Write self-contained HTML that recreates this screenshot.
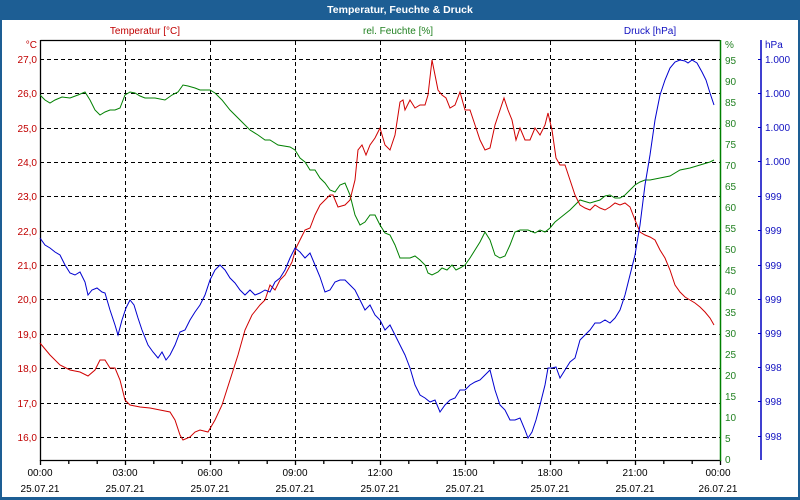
<!DOCTYPE html>
<html><head><meta charset="utf-8"><style>
html,body{margin:0;padding:0;background:#fff}
body{width:800px;height:500px;overflow:hidden}
svg{display:block;font-family:"Liberation Sans",sans-serif;font-size:10px}
</style></head><body>
<svg width="800" height="500" viewBox="0 0 800 500">
<rect x="0" y="0" width="800" height="500" fill="#1d5e94"/>
<rect x="2" y="20" width="796" height="477" fill="#fff"/>
<text x="400" y="13" fill="#fff" font-weight="bold" font-size="10.5" text-anchor="middle">Temperatur, Feuchte &amp; Druck</text>
<text x="145" y="34" fill="#c00000" text-anchor="middle">Temperatur [°C]</text>
<text x="398" y="34" fill="#208020" text-anchor="middle">rel. Feuchte [%]</text>
<text x="650" y="34" fill="#1010c0" text-anchor="middle">Druck [hPa]</text>
<!-- grid -->
<g stroke="#000" stroke-dasharray="4,3" stroke-width="1">
<path d="M40 59.5H720M40 93.5H720M40 128.5H720M40 162.5H720M40 196.5H720M40 231.5H720M40 265.5H720M40 299.5H720M40 334.5H720M40 368.5H720M40 403.5H720M40 437.5H720"/>
<path d="M125.5 41V460M210.5 41V460M295.5 41V460M380.5 41V460M465.5 41V460M550.5 41V460M635.5 41V460"/>
</g>
<g stroke="#000" stroke-width="1.3" fill="none">
<path d="M40.5 40.5H720M40.5 40V460.5H720"/>
<path d="M40.5 460v5M68.8 460v4M97.2 460v4M125.5 460v5M153.8 460v4M182.2 460v4M210.5 460v5M238.8 460v4M267.2 460v4M295.5 460v5M323.8 460v4M352.2 460v4M380.5 460v5M408.8 460v4M437.2 460v4M465.5 460v5M493.8 460v4M522.2 460v4M550.5 460v5M578.8 460v4M607.2 460v4M635.5 460v5M663.8 460v4M692.2 460v4M720.5 460v5"/>
</g>
<path d="M720.5 40V461" stroke="#008000" stroke-width="1.5"/>
<path d="M761 40V460" stroke="#0000c0" stroke-width="1.5"/>
<g stroke="#0000c0"><path d="M758 59.5h3M758 93.5h3M758 127.5h3M758 161.5h3M758 196.5h3M758 230.5h3M758 265.5h3M758 299.5h3M758 333.5h3M758 367.5h3M758 401.5h3M758 436.5h3"/></g>
<!-- left labels -->
<g fill="#c00000" text-anchor="end">
<text x="37" y="48">°C</text>
<text x="37" y="63">27,0</text><text x="37" y="97">26,0</text><text x="37" y="132">25,0</text><text x="37" y="166">24,0</text><text x="37" y="200">23,0</text><text x="37" y="235">22,0</text><text x="37" y="269">21,0</text><text x="37" y="303">20,0</text><text x="37" y="338">19,0</text><text x="37" y="372">18,0</text><text x="37" y="407">17,0</text><text x="37" y="441">16,0</text>
</g>
<g fill="#208020">
<text x="725" y="48">%</text>
<text x="725" y="64">95</text><text x="725" y="85">90</text><text x="725" y="106">85</text><text x="725" y="127">80</text><text x="725" y="148">75</text><text x="725" y="169">70</text><text x="725" y="190">65</text><text x="725" y="211">60</text><text x="725" y="232">55</text><text x="725" y="253">50</text><text x="725" y="274">45</text><text x="725" y="295">40</text><text x="725" y="316">35</text><text x="725" y="337">30</text><text x="725" y="358">25</text><text x="725" y="379">20</text><text x="725" y="400">15</text><text x="725" y="421">10</text><text x="725" y="442">5</text><text x="725" y="463">0</text>
</g>
<g fill="#1010c0">
<text x="765" y="48">hPa</text>
<text x="765" y="63">1.000</text><text x="765" y="97">1.000</text><text x="765" y="131">1.000</text><text x="765" y="165">1.000</text><text x="765" y="200">999</text><text x="765" y="234">999</text><text x="765" y="269">999</text><text x="765" y="303">999</text><text x="765" y="337">999</text><text x="765" y="371">998</text><text x="765" y="405">998</text><text x="765" y="440">998</text>
</g>
<g fill="#000" text-anchor="middle">
<text x="40" y="476">00:00</text><text x="40" y="492">25.07.21</text>
<text x="125" y="476">03:00</text><text x="125" y="492">25.07.21</text>
<text x="210" y="476">06:00</text><text x="210" y="492">25.07.21</text>
<text x="295" y="476">09:00</text><text x="295" y="492">25.07.21</text>
<text x="380" y="476">12:00</text><text x="380" y="492">25.07.21</text>
<text x="465" y="476">15:00</text><text x="465" y="492">25.07.21</text>
<text x="550" y="476">18:00</text><text x="550" y="492">25.07.21</text>
<text x="635" y="476">21:00</text><text x="635" y="492">25.07.21</text>
<text x="718" y="476">00:00</text><text x="718" y="492">26.07.21</text>
</g>
<g fill="none" stroke-width="1">
<polyline stroke="#008000" points="40,95 45,100 50,103 55,100 62,97 70,98 78,95 85,92 90,100 95,110 100,115 105,112 110,110 115,110 120,108 125,95 130,92 135,93 140,96 145,98 155,98 165,100 172,95 178,92 183,85 188,86 195,88 200,90 210,90 215,93 222,100 230,110 240,120 250,130 258,135 265,140 270,140 278,145 290,147 295,150 300,158 305,162 310,170 315,170 320,178 325,183 330,190 335,192 340,185 345,183 350,195 355,215 360,225 365,222 370,215 375,215 380,225 385,233 390,235 395,245 400,258 405,258 410,258 415,256 420,260 425,265 428,273 432,275 438,272 442,268 447,270 452,265 456,270 460,268 465,265 470,258 475,250 480,242 485,232 490,240 495,255 500,258 505,256 510,245 515,232 520,230 528,230 535,233 540,230 545,232 550,228 555,222 560,218 565,214 570,210 575,205 580,200 590,203 600,200 605,196 610,195 615,198 620,198 625,195 630,190 635,185 640,182 645,180 650,180 660,178 670,176 680,170 690,168 700,165 710,162 714,160"/>
<polyline stroke="#d00000" points="40,343 50,355 60,365 70,370 80,372 88,376 95,370 100,360 105,360 110,368 115,368 120,380 125,400 130,405 140,407 150,408 160,410 170,412 175,420 180,435 183,440 190,437 195,432 200,430 208,432 215,420 222,405 230,380 238,355 245,330 252,315 260,305 265,300 270,285 275,290 280,280 285,275 292,262 296,248 300,240 305,230 310,228 315,215 320,205 325,200 330,195 333,195 338,207 345,205 350,200 355,180 358,150 362,145 366,155 370,145 375,138 380,128 385,145 390,150 395,135 400,102 403,100 405,110 410,100 415,108 420,105 425,105 428,95 432,60 435,75 438,90 442,95 446,98 450,108 455,105 460,92 465,110 470,110 475,125 480,140 485,150 490,148 495,125 500,110 504,98 508,110 512,120 516,140 520,128 525,140 530,140 535,128 540,135 545,125 548,113 552,130 556,158 560,165 565,165 570,180 575,195 580,205 585,208 590,210 595,205 600,208 605,210 610,207 615,203 620,205 625,203 630,207 635,220 640,232 645,235 650,237 655,240 660,250 665,258 670,270 675,285 680,292 685,297 690,300 695,303 700,307 705,312 710,318 714,325"/>
<polyline stroke="#0000d0" points="40,238 45,245 50,248 55,252 60,255 65,265 70,273 75,275 80,272 85,282 88,295 92,290 97,288 102,292 105,293 110,310 115,325 118,335 122,320 126,308 130,300 134,305 138,318 142,330 148,345 153,352 158,358 162,352 166,360 170,355 175,345 180,332 185,330 190,320 195,312 200,305 205,295 210,280 215,270 220,265 225,270 230,278 235,283 240,290 245,295 250,290 255,295 260,293 265,290 270,292 275,282 280,278 285,270 290,258 295,248 300,252 305,258 310,253 315,265 320,277 325,292 330,290 335,282 340,280 345,280 350,285 355,290 360,300 365,310 370,305 375,315 380,320 385,330 390,325 395,335 400,345 405,355 410,368 415,385 420,395 425,398 430,402 435,400 440,412 445,405 450,400 455,398 460,390 465,390 470,385 475,382 480,380 485,375 490,370 495,390 500,405 505,410 510,420 515,420 520,418 525,430 528,438 532,432 536,420 540,405 545,385 548,368 552,368 556,367 560,378 565,370 570,362 575,358 580,340 585,335 590,330 595,323 600,323 605,320 610,323 615,318 620,310 625,295 630,275 635,255 640,225 645,185 650,155 655,120 660,95 665,80 670,68 675,62 680,60 685,61 688,63 692,60 697,63 702,72 706,80 710,93 714,105"/>
</g>
</svg>
</body></html>
